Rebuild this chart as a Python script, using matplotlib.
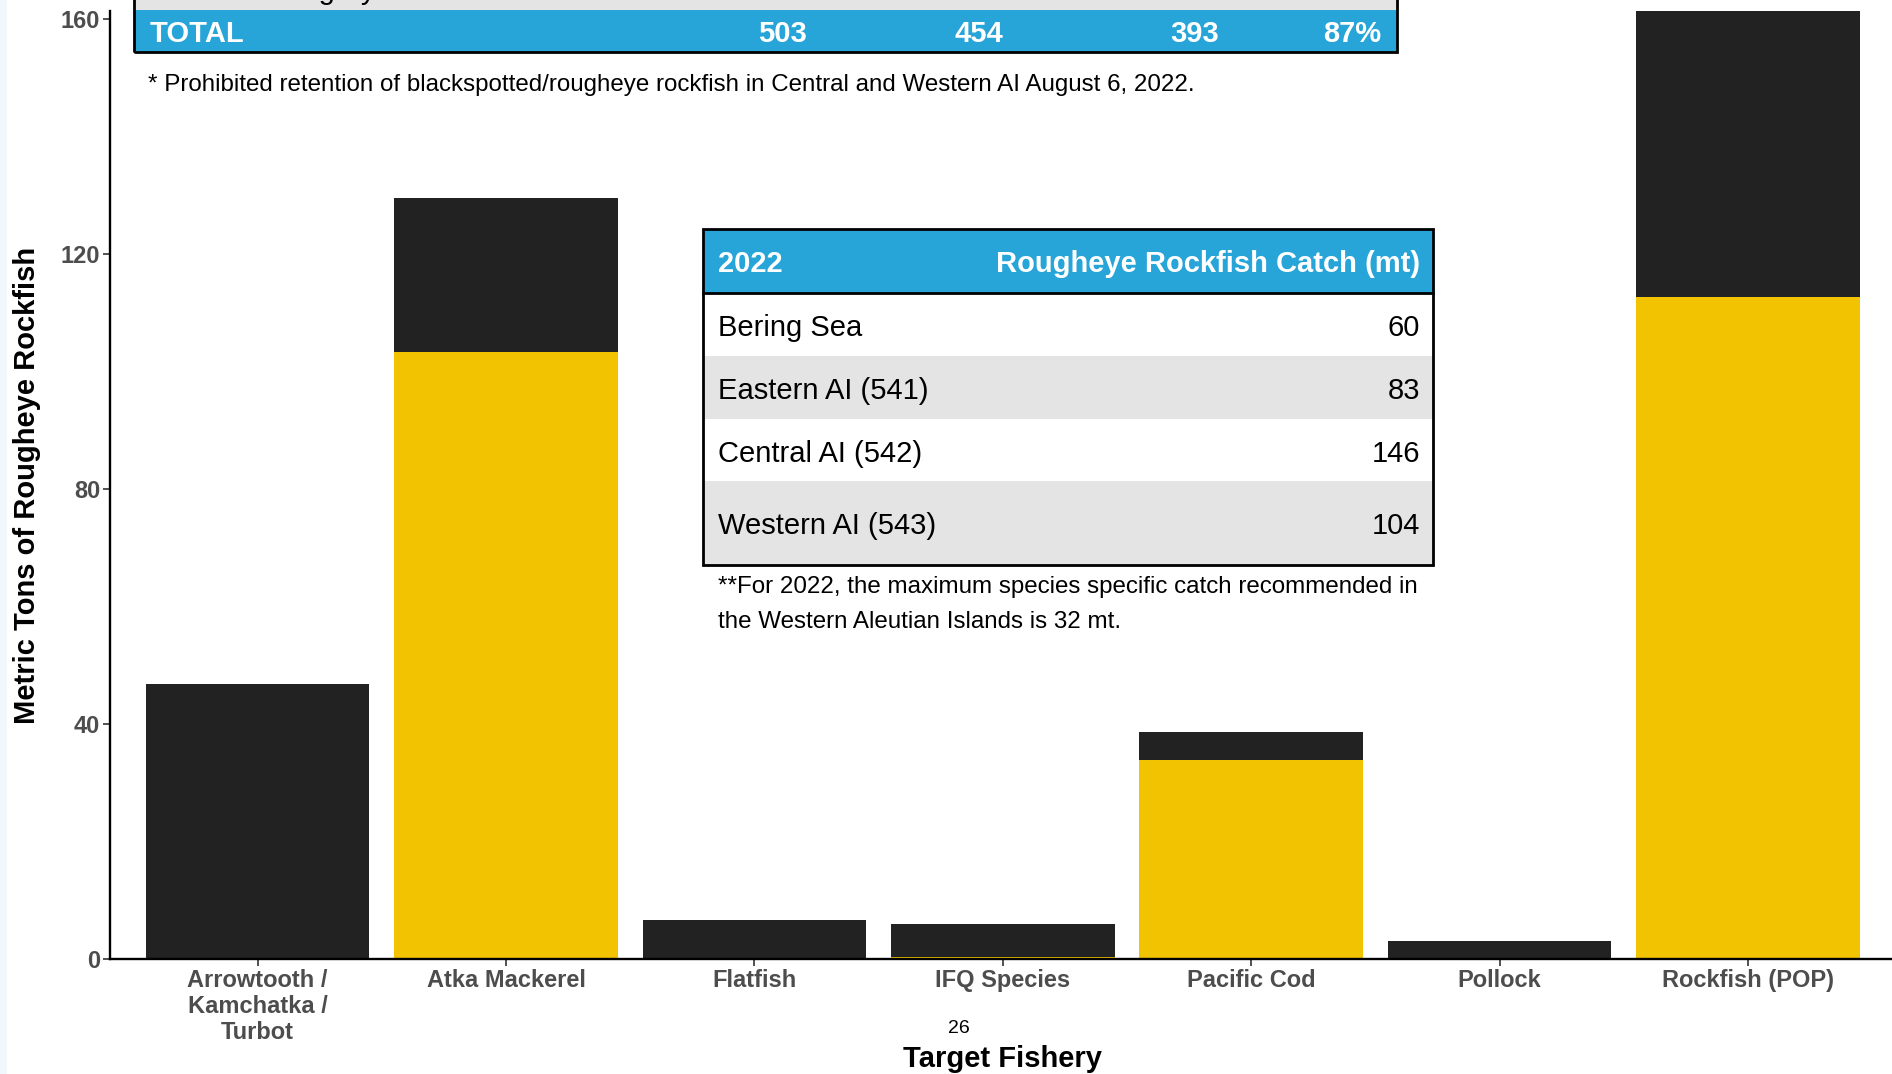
import matplotlib
matplotlib.use("Agg")
import matplotlib.pyplot as plt
from matplotlib.patches import Rectangle
from matplotlib import font_manager

# bar data (metric tons), yellow part at bottom, black part stacked on top
fisheries = ["Arrowtooth /\nKamchatka /\nTurbot", "Atka Mackerel", "Flatfish", "IFQ Species",
             "Pacific Cod", "Pollock", "Rockfish (POP)"]
yellow_mt = [0, 103.3, 0, 0.3, 33.9, 0, 112.7]
black_mt = [46.8, 26.2, 6.7, 5.7, 4.7, 3.1, 48.7]
yticks = [0, 40, 80, 120, 160]

# inset table
area_names = ["Bering Sea", "Eastern AI (541)", "Central AI (542)", "Western AI (543)"]
area_catch = ["60", "83", "146", "104"]

# cropped summary table row
total_label = "TOTAL"
total_values = ["503", "454", "393", "87%"]

note_top = "* Prohibited retention of blackspotted/rougheye rockfish in Central and Western AI August 6, 2022."
note_inset = ["**For 2022, the maximum species specific catch recommended in",
              "the Western Aleutian Islands is 32 mt."]

W, H = 1892, 1074
BLUE = "#27a4d8"
GRAY = "#e4e4e4"
SANS = ["Liberation Sans", "DejaVu Sans"]

# footnotes are in a narrow face; if none installed, shrink the regular one
installed = {f.name for f in font_manager.fontManager.ttflist}
if "Liberation Sans Narrow" in installed:
    NOTE_FONT, NOTE_SIZE = ["Liberation Sans Narrow", "DejaVu Sans"], 19.5
else:
    NOTE_FONT, NOTE_SIZE = SANS, 17.4

plt.rcParams["font.family"] = SANS

fig = plt.figure(figsize=(W / 100, H / 100), dpi=100)


def fx(x):
    return x / W


def fy(y):
    return 1 - y / H


def box(x0, y0, x1, y1, fc, ec="none", lw=0, z=5):
    fig.add_artist(Rectangle((fx(x0), fy(y1)), fx(x1) - fx(x0), fy(y0) - fy(y1),
                             transform=fig.transFigure, facecolor=fc, edgecolor=ec,
                             linewidth=lw, zorder=z))


def ftext(x, y, s, **kw):
    # small nudge down, centred text sits a bit high otherwise
    fig.text(fx(x), fy(y + 2.5), s, zorder=10, **kw)


# faint strip on the left edge
box(0, 0, 7, H, "#f2f7fb", z=0)

ax = fig.add_axes([fx(110), fy(959), 1 - fx(110), fy(11) - fy(959)])
x = range(len(fisheries))
ax.bar(x, yellow_mt, width=0.9, color="#f2c300", zorder=2)
ax.bar(x, black_mt, width=0.9, bottom=yellow_mt, color="#222222", zorder=2)
ax.set_xlim(-0.594, 6.58)
ax.set_ylim(0, 161.4)
ax.set_yticks(yticks)
ax.set_xticks(list(x))
ax.set_xticklabels(fisheries, linespacing=1.17)
for s in ["top", "right"]:
    ax.spines[s].set_visible(False)
for s in ["left", "bottom"]:
    ax.spines[s].set_linewidth(1.7)
    ax.spines[s].set_color("black")
ax.tick_params(axis="both", length=5, width=1.2, color="#333333", labelsize=17,
               labelcolor="#4d4d4d", pad=2)
for lab in ax.get_xticklabels() + ax.get_yticklabels():
    lab.set_fontweight("bold")
ax.set_ylabel("Metric Tons of Rougheye Rockfish", fontsize=21, fontweight="bold", va="center")
ax.yaxis.set_label_coords(-0.0466, 0.5)
ax.set_xlabel("Target Fishery", fontsize=21, fontweight="bold", va="center")
ax.xaxis.set_label_coords(0.501, -0.106)

# cropped summary table at the top
box(134, -20, 1397, 9.5, GRAY, z=5)
box(134, 9.5, 1397, 52, BLUE, z=5)
box(134, -20, 1397, 52, "none", ec="black", lw=2, z=6)
ftext(257, -3.5, "Category", fontsize=21, va="baseline", color="black")
ftext(150, 32, total_label, fontsize=21, fontweight="bold", color="white", va="center")
for xc, v in zip([782, 978.5, 1194.5], total_values[:3]):
    ftext(xc, 32, v, fontsize=21, fontweight="bold", color="white", va="center", ha="center")
ftext(1381, 32, total_values[3], fontsize=21, fontweight="bold", color="white", va="center", ha="right")
ftext(148, 83, note_top, fontsize=NOTE_SIZE, family=NOTE_FONT, va="center")

# inset table
box(703, 229, 1433, 293, BLUE, z=5)
row_edges = [293, 356, 419, 481, 565]
row_mid = [326, 388.5, 451, 523.7]
for i in range(4):
    box(703, row_edges[i], 1433, row_edges[i + 1], "white" if i % 2 == 0 else GRAY, z=5)
    ftext(718, row_mid[i], area_names[i], fontsize=21, va="center")
    ftext(1420, row_mid[i], area_catch[i], fontsize=21, va="center", ha="right")
box(703, 229, 1433, 565, "none", ec="black", lw=2, z=6)
fig.add_artist(plt.Line2D([fx(703), fx(1433)], [fy(293), fy(293)], transform=fig.transFigure,
                          color="black", lw=2, zorder=6))
ftext(718, 262, "2022", fontsize=21, fontweight="bold", color="white", va="center")
ftext(1420, 262, "Rougheye Rockfish Catch (mt)", fontsize=21, fontweight="bold", color="white",
      va="center", ha="right")
ftext(718, 585, note_inset[0], fontsize=NOTE_SIZE, family=NOTE_FONT, va="center")
ftext(718, 620, note_inset[1], fontsize=NOTE_SIZE, family=NOTE_FONT, va="center")

# page number
ftext(959, 1026, "26", fontsize=14, ha="center", va="center")

fig.savefig("out.png", dpi=100)
